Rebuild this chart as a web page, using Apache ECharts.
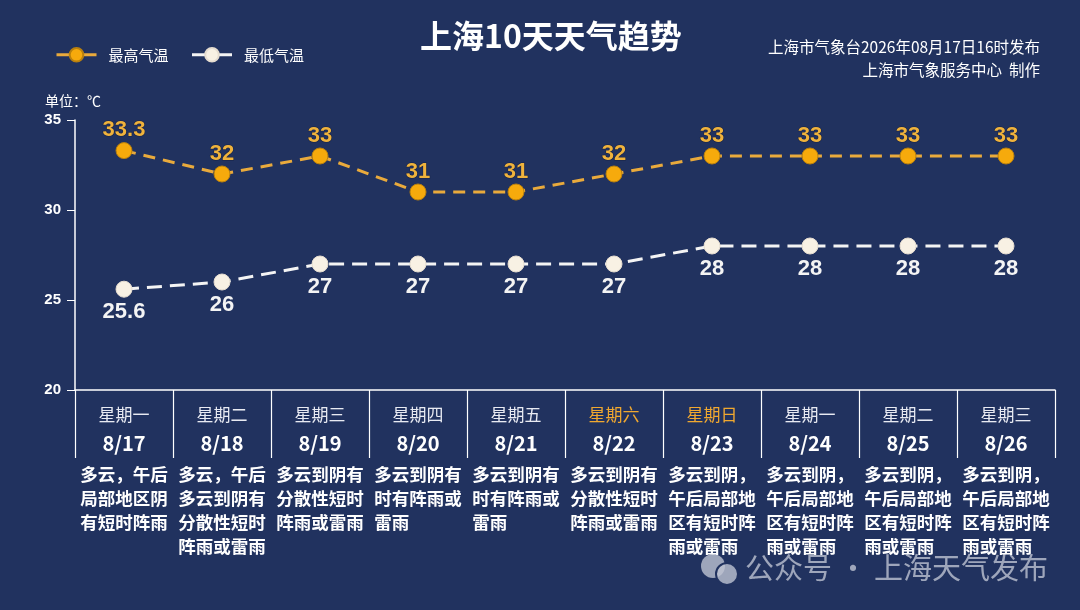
<!DOCTYPE html>
<html><head><meta charset="utf-8">
<script src="https://cdn.jsdelivr.net/npm/echarts@6/dist/echarts.min.js"></script>
<style>html,body{margin:0;padding:0;background:#21325f;}#c{width:1080px;height:610px;}</style>
</head><body><div id="c"></div>
<script>
const weekdays = ['星期一','星期二','星期三','星期四','星期五','星期六','星期日','星期一','星期二','星期三'];
const dates = ['8/17','8/18','8/19','8/20','8/21','8/22','8/23','8/24','8/25','8/26'];
const weekend = [false,false,false,false,false,true,true,false,false,false];
const descriptions = [
  '多云，午后\n局部地区阴\n有短时阵雨',
  '多云，午后\n多云到阴有\n分散性短时\n阵雨或雷雨',
  '多云到阴有\n分散性短时\n阵雨或雷雨',
  '多云到阴有\n时有阵雨或\n雷雨',
  '多云到阴有\n时有阵雨或\n雷雨',
  '多云到阴有\n分散性短时\n阵雨或雷雨',
  '多云到阴，\n午后局部地\n区有短时阵\n雨或雷雨',
  '多云到阴，\n午后局部地\n区有短时阵\n雨或雷雨',
  '多云到阴，\n午后局部地\n区有短时阵\n雨或雷雨',
  '多云到阴，\n午后局部地\n区有短时阵\n雨或雷雨'
];
const highTemps = [33.3, 32, 33, 31, 31, 32, 33, 33, 33, 33];
const lowTemps = [25.6, 26, 27, 27, 27, 27, 28, 28, 28, 28];
const yTicks = {min: 20, max: 35, interval: 5};

const cjk = '"Noto Sans CJK SC", "Noto Sans", sans-serif';
const latin = '"Liberation Sans", Arial, sans-serif';
const chart = echarts.init(document.getElementById('c'));
const categories = dates.map((d, i) => i);

chart.setOption({
  backgroundColor: '#21325f',
  animation: false,
  title: {
    text: '上海10天天气趋势', left: 415, top: 15,
    textStyle: {color: '#ffffff', fontSize: 32, fontWeight: 'bold', fontFamily: cjk}
  },
  legend: {
    data: ['最高气温', '最低气温'], left: 50, top: 42,
    itemWidth: 40, itemHeight: 17, itemGap: 22,
    textStyle: {color: '#ffffff', fontSize: 15, fontFamily: cjk, padding: [0, 0, 0, 7]},
    lineStyle: {type: 'solid', width: 3}
  },
  graphic: [
    {type: 'text', right: 40, top: 39, style: {text: '上海市气象台2026年08月17日16时发布', fill: '#ffffff', font: '15.5px ' + cjk, textAlign: 'right'}},
    {type: 'text', right: 40, top: 62, style: {text: '上海市气象服务中心  制作', fill: '#ffffff', font: '15.5px ' + cjk, textAlign: 'right'}},
    {type: 'circle', shape: {cx: 713, cy: 566, r: 12}, style: {fill: 'rgba(190,195,210,0.8)'}},
    {type: 'circle', shape: {cx: 727, cy: 574, r: 11}, style: {fill: 'rgba(190,195,210,0.8)', stroke: '#21325f', lineWidth: 2}},
    {type: 'text', left: 745, top: 553, style: {text: '公众号 · 上海天气发布', fill: 'rgba(190,195,210,0.8)', font: '29px ' + cjk}}
  ],
  grid: {left: 75, right: 25, top: 120, bottom: 220, containLabel: false},
  xAxis: {
    type: 'category', data: categories, boundaryGap: true,
    axisLine: {lineStyle: {color: '#ffffff', width: 1.5}},
    axisTick: {show: true, length: 68, lineStyle: {color: '#ffffff', width: 1.2}},
    axisLabel: {
      interval: 0, margin: 11,
      formatter: (v, i) => (weekend[i] ? '{we|' : '{w|') + weekdays[i] + '}\n{d|' + dates[i] + '}\n{s| }\n{t|' + descriptions[i] + '}',
      rich: {
        w: {color: '#e8eaf2', fontSize: 17, lineHeight: 28, fontFamily: cjk},
        we: {color: '#f0a830', fontSize: 17, lineHeight: 28, fontFamily: cjk},
        d: {color: '#ffffff', fontSize: 20, fontWeight: 'bold', lineHeight: 28, fontFamily: cjk},
        s: {fontSize: 2, lineHeight: 5},
        t: {color: '#ffffff', fontSize: 17.5, fontWeight: 'bold', lineHeight: 24, fontFamily: cjk, align: 'left'}
      }
    }
  },
  yAxis: {
    type: 'value', min: yTicks.min, max: yTicks.max, interval: yTicks.interval,
    name: '单位：℃', nameLocation: 'end', nameGap: 12,
    nameTextStyle: {color: '#ffffff', fontSize: 14, fontFamily: cjk, padding: [0, 0, 0, -4]},
    splitLine: {show: false},
    axisLine: {show: true, lineStyle: {color: '#ffffff', width: 1.5}},
    axisTick: {show: true, length: 8, lineStyle: {color: '#ffffff'}},
    axisLabel: {color: '#ffffff', fontSize: 15, fontWeight: 'bold', fontFamily: latin, margin: 14}
  },
  series: [
    {
      name: '最高气温', type: 'line', data: highTemps,
      symbol: 'circle', symbolSize: 16,
      itemStyle: {color: '#f6aa0c', borderColor: '#b9800e', borderWidth: 1},
      lineStyle: {color: '#e9aa3c', width: 3, type: [12, 8]},
      label: {show: true, position: 'top', distance: 1, color: '#f0b33c', fontSize: 22, fontWeight: 'bold', fontFamily: latin,
              textBorderColor: 'rgba(20,25,50,0.6)', textBorderWidth: 1}
    },
    {
      name: '最低气温', type: 'line', data: lowTemps,
      symbol: 'circle', symbolSize: 16,
      itemStyle: {color: '#f8f1e4', borderColor: '#e6ddd0', borderWidth: 1},
      lineStyle: {color: '#f4f4f4', width: 3, type: [15, 8]},
      label: {show: true, position: 'bottom', distance: 3, color: '#f4f4f4', fontSize: 22, fontWeight: 'bold', fontFamily: latin}
    }
  ]
});
</script></body></html>
